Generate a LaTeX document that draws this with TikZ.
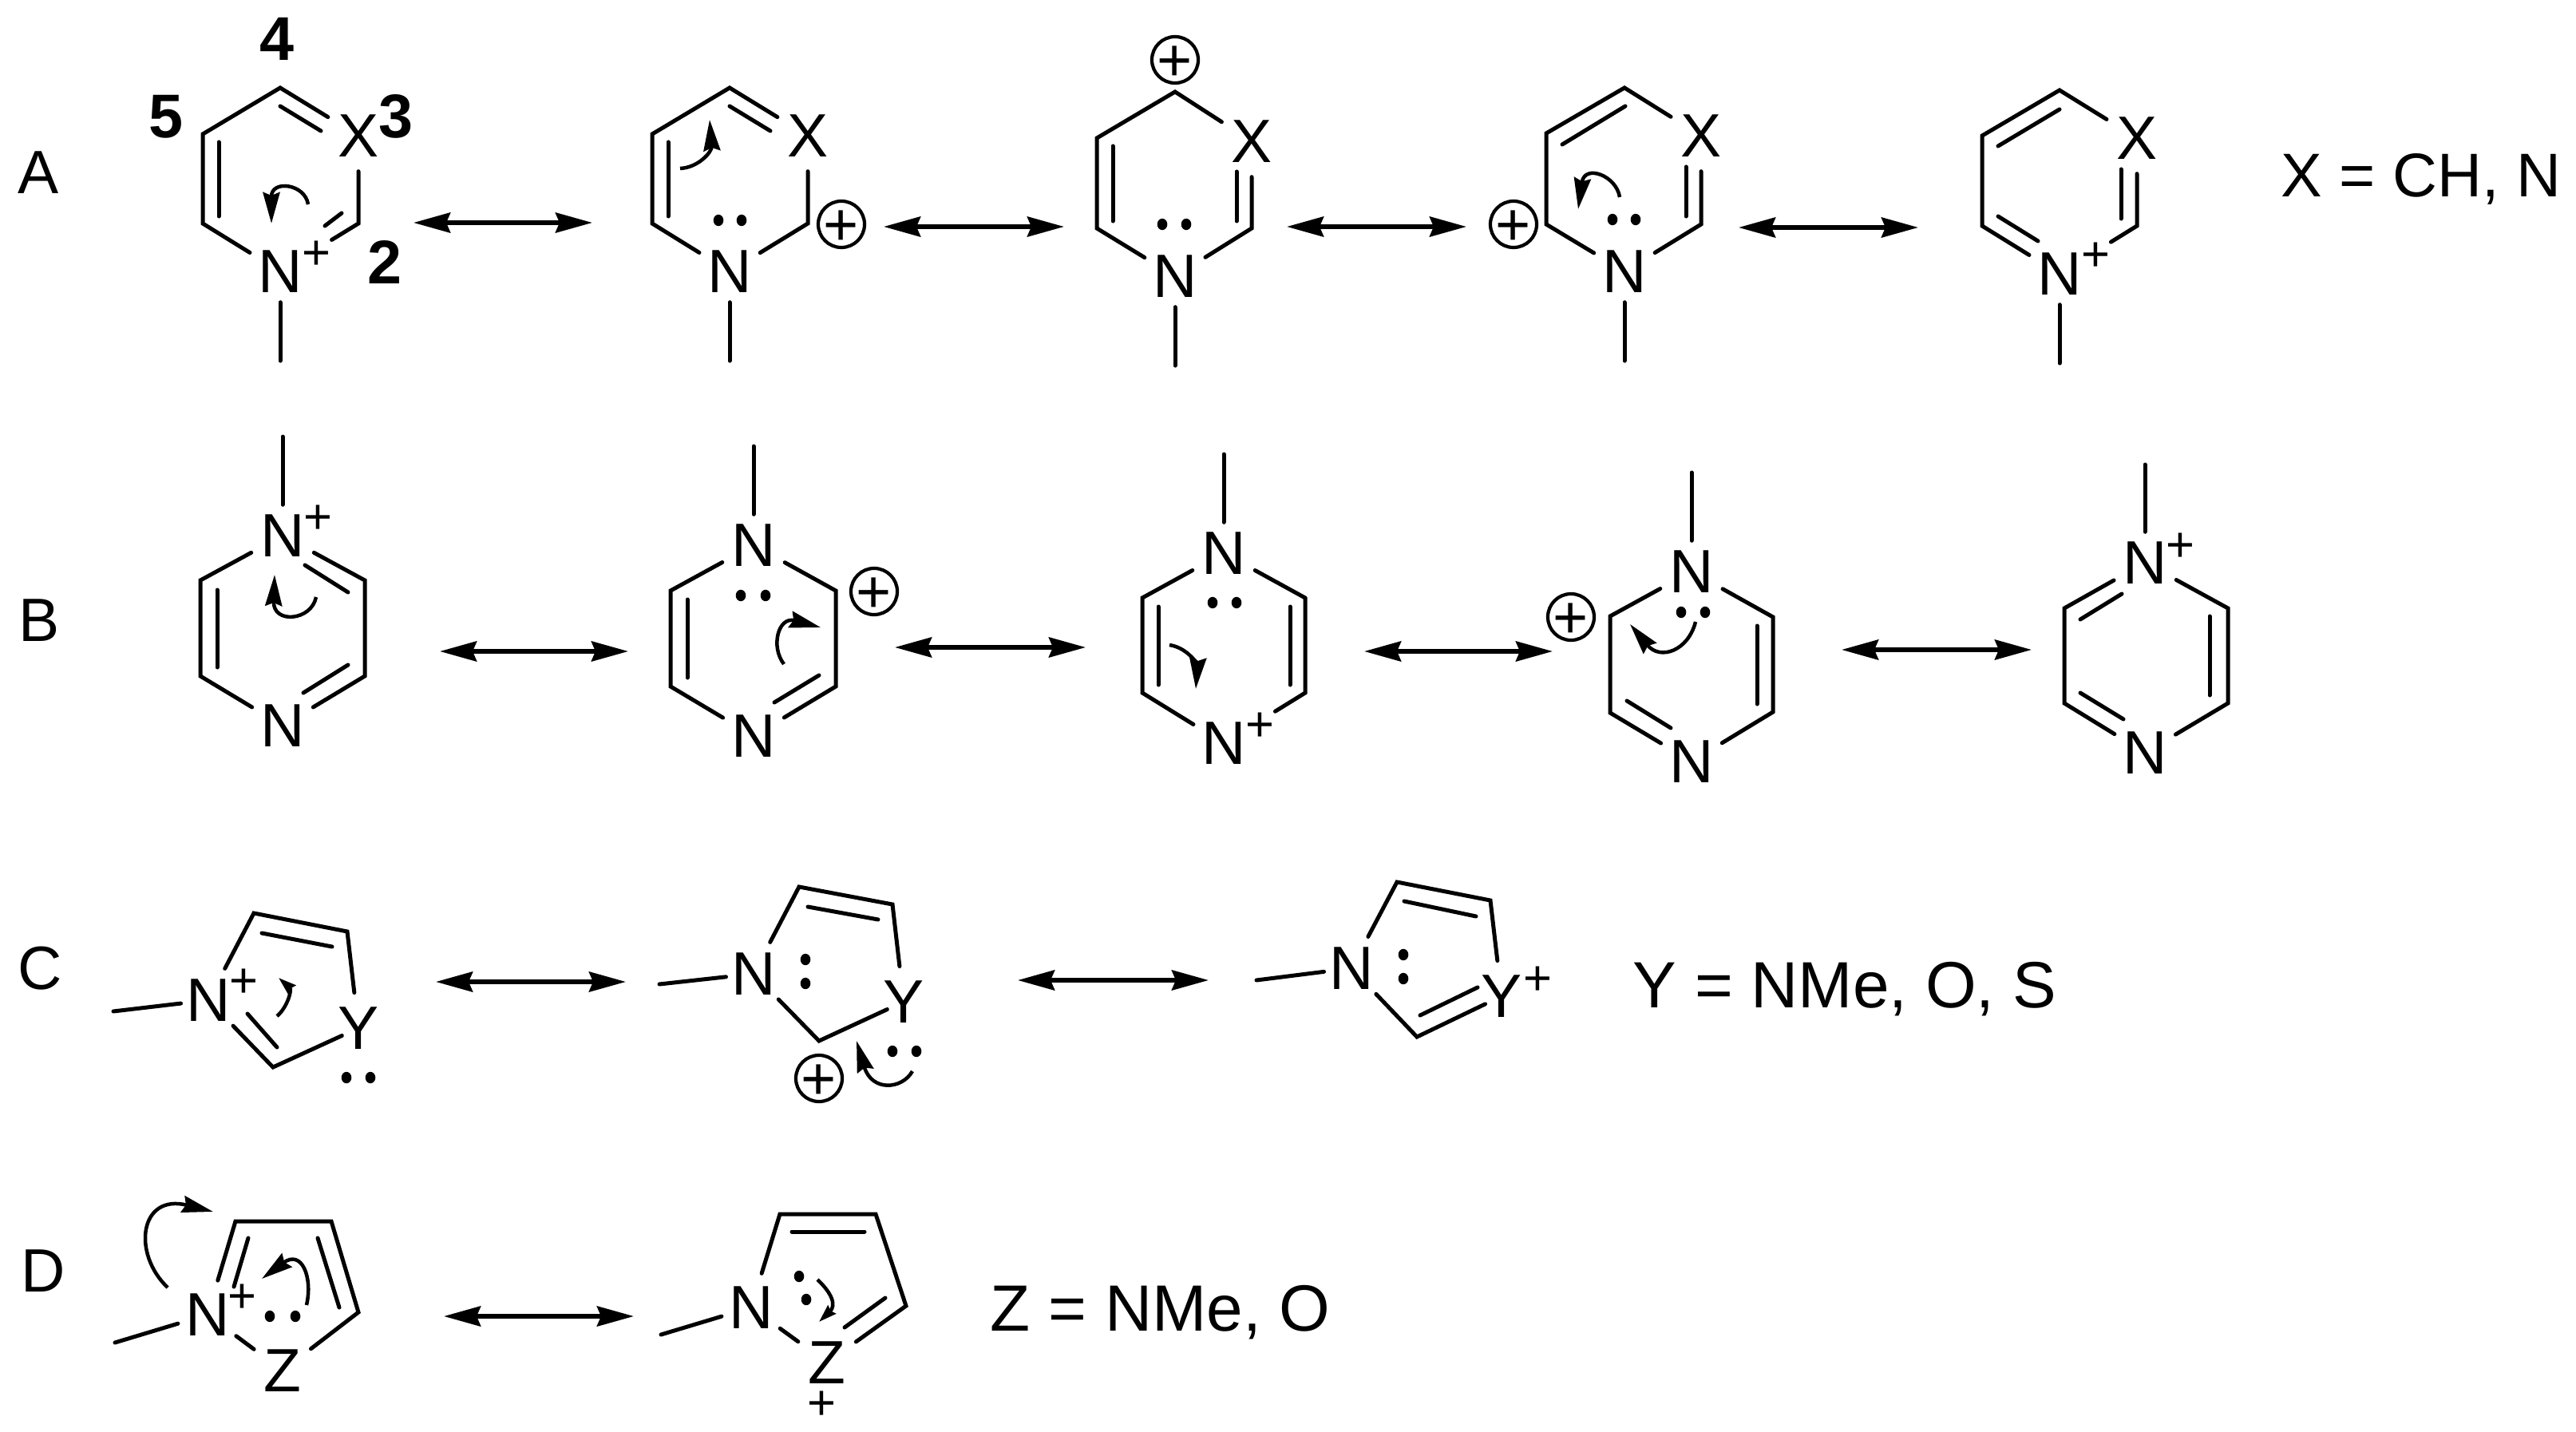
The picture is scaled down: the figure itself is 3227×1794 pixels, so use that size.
\documentclass[tikz,border=0pt]{standalone}
\usepackage{fontspec}
\setmainfont{Liberation Sans}
\usetikzlibrary{arrows.meta}
\newcommand\pl{\raisebox{-0.11em}[.48em][0pt]{+}}
\newcommand\co[2]{\coordinate (#1) at (#2);}
\newcommand\inl[2]{\coordinate (ia) at (#1);\coordinate (ib) at (#2);\draw[bond] (ia) -- (ib);}
\newcommand\res[4]{\coordinate (#1a) at (#2,#4);\coordinate (#1b) at (#3,#4);\draw[resarrow] (#1a) -- (#1b);}
\newcommand\curly[6][bighead]{\coordinate (#2s) at (#3);\coordinate (#2e) at (#6);\draw[curve,#1] (#2s) .. controls (#4) and (#5) .. (#2e);}
\newcommand\lp[2]{\fill (#1) ellipse [x radius=0.063cm,y radius=0.072cm];\fill (#2) ellipse [x radius=0.063cm,y radius=0.072cm];}
\tikzset{
  bond/.style={line width=0.05cm,line cap=round,line join=miter},
  atom/.style={circle,inner sep=0pt,minimum size=0.88cm,font=\fontsize{21.8}{24}\selectfont},
  chg/.style={inner sep=0pt,font=\fontsize{17.5}{18}\selectfont},
  cplus/.style={circle,draw,line width=0.042cm,inner sep=0pt,minimum size=0.58cm,font=\fontsize{21.5}{22}\selectfont},
  rowlabel/.style={inner sep=0pt,font=\fontsize{21.8}{24}\selectfont},
  posn/.style={inner sep=0pt,font=\bfseries\fontsize{22}{24}\selectfont},
  defn/.style={inner sep=0pt,anchor=base west,font=\fontsize{23.3}{26}\selectfont},
  resarrow/.style={line width=0.055cm,{Stealth[length=0.46cm,width=0.25cm,inset=0.05cm]}-{Stealth[length=0.46cm,width=0.25cm,inset=0.05cm]}},
  curve/.style={line width=0.045cm},
  bighead/.style={-{Stealth[length=0.39cm,width=0.21cm,inset=0.04cm]}},
  smallhead/.style={-{Stealth[length=0.22cm,width=0.14cm,inset=0.02cm]}},
  mebond/.style={bond,shorten >=-0.06cm},
}
\begin{document}
\begin{tikzpicture}[x=0.01cm,y=-0.01cm]
\useasboundingbox (0,0) rectangle (3227,1794);
% row labels
\node[rowlabel] (LA) at (48,216) {A};
\node[rowlabel] (LB) at (49,777) {B};
\node[rowlabel] (LC) at (50,1213) {C};
\node[rowlabel] (LD) at (54,1592) {D};
\node[posn] (P4) at (347,49) {4};
\node[posn] (P5) at (208,146) {5};
\node[posn] (P3) at (496,146) {3};
\node[posn] (P2) at (482,328) {2};
\node[defn,font=\fontsize{22}{26}\selectfont] (TX) at (2857,247) {X = CH, N};
\node[defn] (TY) at (2045,1262) {Y = NMe, O, S};
\node[defn] (TZ) at (1240,1667) {Z = NMe, O};

% ---- A1
\co{A1t}{351,110}\co{A1ul}{254,168}\co{A1ll}{254,280}\co{A1lr}{449,280}\co{A1m}{351,452}
\node[atom] (A1N) at (351,340) {N};\node[atom] (A1X) at (449,170) {X};\node[chg] (A1p) at (396,316) {\pl};
\draw[bond] (A1N) -- (A1ll) -- (A1ul) -- (A1t) -- (A1X);
\draw[bond,shorten >=0.31cm] (A1X) -- (A1lr) -- (A1N);
\draw[mebond] (A1m) -- (A1N);
\inl{351,133}{402,164}\inl{274,178}{274,271}\inl{428,267}{407,283}
\curly{A1c}{386,256}{382,230}{340,225}{340,280}
\res{RA1}{518}{742}{279}
% ---- A2
\co{A2t}{914,110}\co{A2ul}{817,168}\co{A2ll}{817,280}\co{A2lr}{1012,280}\co{A2m}{914,452}
\node[atom] (A2N) at (914,340) {N};\node[atom] (A2X) at (1012,170) {X};
\node[cplus] (A2p) at (1054,281) {\pl};
\draw[bond] (A2N) -- (A2ll) -- (A2ul) -- (A2t) -- (A2X);
\draw[bond] (A2X) -- (A2lr) -- (A2N);
\draw[mebond] (A2m) -- (A2N);
\inl{914,133}{965,164}\inl{837,178}{837,271}
\lp{900,276}{929,276}
\curly{A2c}{852,211}{875,210}{892,190}{889,150}
\res{RA2}{1107}{1333}{284}
% ---- A3
\co{A3t}{1472,115}\co{A3ul}{1374,173}\co{A3ll}{1374,286}\co{A3lr}{1568,286}\co{A3m}{1472,458}
\node[atom] (A3N) at (1472,346) {N};\node[atom] (A3X) at (1568,177) {X};
\node[cplus] (A3p) at (1472,75) {\pl};
\draw[bond] (A3N) -- (A3ll) -- (A3ul) -- (A3t) -- (A3X);
\draw[bond] (A3X) -- (A3lr) -- (A3N);
\draw[mebond] (A3m) -- (A3N);
\inl{1394,183}{1394,277}\inl{1549,215}{1549,277}
\lp{1456,281}{1486,281}
\res{RA3}{1612}{1837}{284}
% ---- A4
\co{A4t}{2035,110}\co{A4ul}{1937,167}\co{A4ll}{1937,281}\co{A4lr}{2131,281}\co{A4m}{2035,452}
\node[atom] (A4N) at (2035,340) {N};\node[atom] (A4X) at (2131,170) {X};
\node[cplus] (A4p) at (1896,281) {\pl};
\draw[bond] (A4N) -- (A4ll) -- (A4ul) -- (A4t) -- (A4X);
\draw[bond] (A4X) -- (A4lr) -- (A4N);
\draw[mebond] (A4m) -- (A4N);
\inl{2036,133}{1957,181}\inl{2112,209}{2112,271}
\lp{2020,275}{2049,275}
\curly{A4c}{2029,247}{2025,220}{1985,205}{1977,262}
\res{RA4}{2178}{2403}{285}
% ---- A5
\co{A5t}{2580,113}\co{A5ul}{2483,170}\co{A5ll}{2483,283}\co{A5lr}{2677,283}\co{A5m}{2580,455}
\node[atom] (A5N) at (2580,343) {N};\node[atom] (A5X) at (2677,173) {X};\node[chg] (A5p) at (2625,318) {\pl};
\draw[bond] (A5N) -- (A5ll) -- (A5ul) -- (A5t) -- (A5X);
\draw[bond,shorten >=0.31cm] (A5X) -- (A5lr) -- (A5N);
\draw[mebond] (A5m) -- (A5N);
\inl{2580,137}{2503,183}\inl{2503,271}{2553,302}\inl{2657,212}{2657,274}

% ---- B1
\co{B1ul}{251,727}\co{B1ll}{251,847}\co{B1ur}{457,727}\co{B1lr}{457,847}\co{B1m}{354,547}
\node[atom] (B1N) at (354,671) {N};\node[atom] (B1M) at (354,909) {N};\node[chg] (B1p) at (398,647) {\pl};
\draw[bond] (B1N) -- (B1ul) -- (B1ll) -- (B1M);
\draw[bond] (B1N) -- (B1ur) -- (B1lr) -- (B1M);
\draw[mebond] (B1m) -- (B1N);
\inl{272,739}{272,836}\inl{382,708}{436,742}\inl{436,833}{380,868}
\curly{B1c}{396,748}{390,778}{342,782}{344,720}
\res{RB1}{551}{787}{816}
% ---- B2
\co{B2ul}{840,740}\co{B2ll}{840,860}\co{B2ur}{1047,740}\co{B2lr}{1047,860}\co{B2m}{944,559}
\node[atom] (B2N) at (944,683) {N};\node[atom] (B2M) at (944,922) {N};
\node[cplus] (B2p) at (1095,741) {\pl};
\draw[bond] (B2N) -- (B2ul) -- (B2ll) -- (B2M);
\draw[bond] (B2N) -- (B2ur) -- (B2lr) -- (B2M);
\draw[mebond] (B2m) -- (B2N);
\inl{861,751}{861,849}\inl{1026,846}{970,880}
\lp{928,746}{959,746}
\curly{B2c}{982,832}{965,810}{975,772}{1028,786}
\res{RB2}{1121}{1360}{811}
% ---- B3
\co{B3ul}{1431,749}\co{B3ll}{1431,868}\co{B3ur}{1635,749}\co{B3lr}{1635,868}\co{B3m}{1533,569}
\node[atom] (B3N) at (1533,693) {N};\node[atom] (B3M) at (1533,931) {N};\node[chg] (B3p) at (1578,907) {\pl};
\draw[bond] (B3N) -- (B3ul) -- (B3ll) -- (B3M);
\draw[bond] (B3N) -- (B3ur);\draw[bond,shorten >=0.31cm] (B3ur) -- (B3lr) -- (B3M);
\draw[mebond] (B3m) -- (B3N);
\inl{1451,760}{1451,858}\inl{1616,760}{1616,858}
\lp{1519,755}{1549,755}
\curly{B3c}{1465,808}{1490,812}{1500,835}{1498,863}
\res{RB3}{1709}{1945}{816}
% ---- B4
\co{B4ul}{2017,772}\co{B4ll}{2017,893}\co{B4ur}{2221,773}\co{B4lr}{2221,892}\co{B4m}{2119,592}
\node[atom] (B4N) at (2119,716) {N};\node[atom] (B4M) at (2119,954) {N};
\node[cplus] (B4p) at (1968,773) {\pl};
\draw[bond] (B4N) -- (B4ul) -- (B4ll) -- (B4M);
\draw[bond] (B4N) -- (B4ur) -- (B4lr) -- (B4M);
\draw[mebond] (B4m) -- (B4N);
\inl{2201,784}{2201,882}\inl{2038,878}{2093,912}
\lp{2106,767}{2136,767}
\curly{B4c}{2124,779}{2115,815}{2080,828}{2042,782}
\res{RB4}{2307}{2545}{814}
% ---- B5
\co{B5ul}{2586,762}\co{B5ll}{2586,881}\co{B5ur}{2791,762}\co{B5lr}{2791,881}\co{B5m}{2687,582}
\node[atom] (B5N) at (2687,705) {N};\node[atom] (B5M) at (2687,943) {N};\node[chg] (B5p) at (2731,682) {\pl};
\draw[bond] (B5N) -- (B5ul) -- (B5ll) -- (B5M);
\draw[bond] (B5N) -- (B5ur) -- (B5lr) -- (B5M);
\draw[mebond] (B5m) -- (B5N);
\inl{2658,744}{2606,776}\inl{2606,868}{2660,901}\inl{2768,772}{2768,871}

% ---- C1
\co{C1tl}{318,1144}\co{C1tr}{435,1167}\co{C1b}{342,1337}\co{C1m}{142,1267}
\node[atom] (C1N) at (261,1253) {N};\node[atom] (C1Y) at (449,1288) {Y};\node[chg] (C1p) at (305,1228) {\pl};
\draw[bond] (C1N) -- (C1tl) -- (C1tr) -- (C1Y);
\draw[bond,shorten >=-0.22cm] (C1N) -- (C1b) -- (C1Y);
\draw[mebond,shorten >=-0.1cm] (C1m) -- (C1N);
\inl{328,1169}{416,1186}\inl{310,1270}{347,1312}
\lp{434,1350}{464,1350}
\curly[smallhead]{C1c}{347,1273}{360,1262}{366,1240}{349,1225}
\res{RC1}{546}{784}{1230}
% ---- C2
\co{C2tl}{1001,1111}\co{C2tr}{1118,1133}\co{C2b}{1026,1304}\co{C2m}{826,1233}
\node[atom] (C2N) at (944,1220) {N};\node[atom] (C2Y) at (1132,1255) {Y};
\node[cplus] (C2p) at (1026,1351) {\pl};
\draw[bond] (C2N) -- (C2tl) -- (C2tr) -- (C2Y);
\draw[bond,shorten >=-0.22cm] (C2N) -- (C2b) -- (C2Y);
\draw[mebond,shorten >=-0.1cm] (C2m) -- (C2N);
\inl{1012,1136}{1100,1152}
\lp{1009,1202}{1009,1232}
\lp{1118,1317}{1148,1317}
\curly{C2c}{1143,1342}{1130,1365}{1092,1368}{1073,1304}
\res{RC2}{1275}{1514}{1228}
% ---- C3
\co{C3tl}{1750,1105}\co{C3tr}{1867,1128}\co{C3b}{1775,1299}\co{C3m}{1574,1228}
\node[atom] (C3N) at (1693,1213) {N};\node[atom] (C3Y) at (1881,1248) {Y};\node[chg] (C3p) at (1926,1225) {\pl};
\draw[bond] (C3N) -- (C3tl) -- (C3tr) -- (C3Y);
\draw[bond,shorten >=-0.22cm] (C3N) -- (C3b) -- (C3Y);
\draw[mebond,shorten >=-0.1cm] (C3m) -- (C3N);
\inl{1759,1129}{1849,1148}\inl{1779,1272}{1851,1237}
\lp{1758,1196}{1758,1226}

% ---- D1
\co{D1tl}{295,1530}\co{D1tr}{415,1530}\co{D1r}{449,1644}\co{D1m}{144,1682}
\node[atom] (D1N) at (260,1647) {N};\node[atom] (D1Z) at (354,1717) {Z};\node[chg] (D1p) at (303,1623) {\pl};
\draw[bond] (D1N) -- (D1tl) -- (D1tr) -- (D1r) -- (D1Z);
\draw[bond] (D1N) -- (D1Z);
\draw[mebond] (D1m) -- (D1N);
\inl{311,1551}{293,1612}\inl{398,1551}{425,1638}
\lp{338,1649}{370,1649}
\curly{D1a}{384,1635}{392,1600}{378,1565}{328,1602}
\curly{D1b}{210,1613}{165,1570}{175,1495}{267,1518}
\res{RD1}{556}{794}{1649}
% ---- D2
\co{D2tl}{977,1521}\co{D2tr}{1097,1521}\co{D2r}{1135,1636}\co{D2m}{828,1672}
\node[atom] (D2N) at (941,1638) {N};\node[atom] (D2Z) at (1036,1707) {Z};\node[chg] (D2p) at (1029,1757) {\pl};
\draw[bond] (D2N) -- (D2tl) -- (D2tr) -- (D2r) -- (D2Z);
\draw[bond] (D2N) -- (D2Z);
\draw[mebond] (D2m) -- (D2N);
\inl{992,1543}{1083,1543}\inl{1109,1626}{1058,1663}
\lp{1001,1599}{1010,1628}
\curly[smallhead]{D2c}{1024,1603}{1042,1620}{1048,1635}{1026,1656}
\end{tikzpicture}
\end{document}
